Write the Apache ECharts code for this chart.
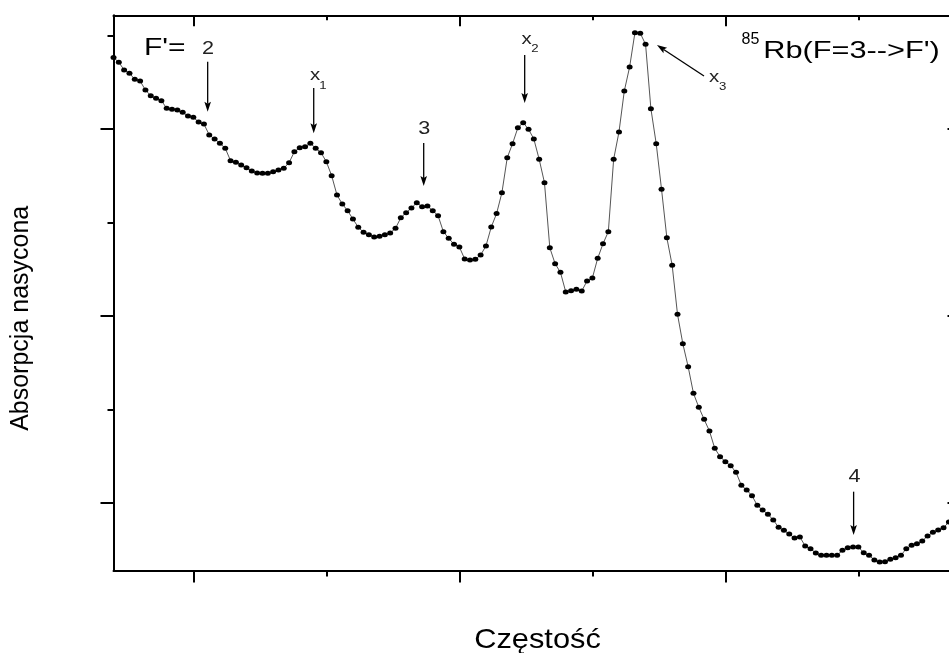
<!DOCTYPE html>
<html><head><meta charset="utf-8">
<script src="https://cdn.jsdelivr.net/npm/echarts@6/dist/echarts.min.js"></script>
<style>html,body{margin:0;padding:0;background:#fff}#c{width:949px;height:653px}</style>
</head><body><div id="c"></div>
<script>
// Frequency (sample position along the scan, arbitrary units)
const frequency = [0,1,2,3,4,5,6,7,8,9,10,11,12,13,14,15,16,17,18,19,20,21,22,23,24,25,26,27,28,29,30,31,32,33,34,35,36,37,38,39,40,41,42,43,44,45,46,47,48,49,50,51,52,53,54,55,56,57,58,59,60,61,62,63,64,65,66,67,68,69,70,71,72,73,74,75,76,77,78,79,80,81,82,83,84,85,86,87,88,89,90,91,92,93,94,95,96,97,98,99,100,101,102,103,104,105,106,107,108,109,110,111,112,113,114,115,116,117,118,119,120,121,122,123,124,125,126,127,128,129,130,131,132,133,134,135,136,137,138,139,140,141,142,143,144,145,146,147,148,149,150,151,152,153,154,155,156,157];
// Saturated absorption (arbitrary units)
const absorption = [5.765,5.713,5.631,5.596,5.531,5.513,5.417,5.356,5.328,5.303,
5.221,5.211,5.203,5.179,5.139,5.125,5.075,5.053,4.936,4.893,
4.847,4.794,4.661,4.644,4.615,4.586,4.551,4.529,4.526,4.526,
4.543,4.561,4.580,4.640,4.757,4.800,4.811,4.847,4.794,4.747,
4.650,4.501,4.294,4.198,4.126,4.037,3.949,3.895,3.870,3.845,
3.852,3.870,3.888,3.938,4.051,4.105,4.155,4.212,4.169,4.176,
4.126,4.073,3.902,3.831,3.767,3.738,3.610,3.599,3.606,3.652,
3.749,3.952,4.096,4.319,4.693,4.843,5.014,5.067,4.997,4.893,
4.676,4.426,3.730,3.559,3.467,3.257,3.271,3.286,3.267,3.374,
3.406,3.617,3.773,3.902,4.676,4.968,5.406,5.663,6.030,6.024,
5.906,5.217,4.843,4.355,3.837,3.542,3.018,2.704,2.458,2.173,
2.024,1.895,1.770,1.585,1.495,1.442,1.399,1.328,1.189,1.139,
1.078,0.975,0.925,0.879,0.818,0.740,0.708,0.668,0.626,0.636,
0.540,0.511,0.465,0.441,0.441,0.441,0.441,0.494,0.522,0.529,
0.529,0.468,0.441,0.390,0.369,0.372,0.398,0.415,0.441,0.511,
0.548,0.565,0.594,0.647,0.687,0.711,0.736,0.797];

const xRange = [0, 159];
const yRange = [0.278, 6.216];
const xMajorTicks = [15, 65, 115];
const xMinorTicks = [40, 90, 140];
const yMajorTicks = [1, 3, 5];
const yMinorTicks = [2, 4, 6];

// Annotation arrows: tail and tip in data coordinates
const arrowNames = ['2', 'x1', '3', 'x2', 'x3', '4'];
const arrowTails = [[17.70, 5.720], [37.63, 5.439], [58.30, 4.850], [77.28, 5.791], [110.98, 5.567], [139.10, 1.121]];
const arrowTips  = [[17.70, 5.185], [37.63, 4.954], [58.30, 4.390], [77.28, 5.278], [102.14, 5.898], [139.10, 0.658]];
// Annotation labels
const labelTexts = ['2', 'x', '1', '3', 'x', '2', 'x', '3', '4'];
const labelPos = [[17.76, 5.850], [37.87, 5.572], [39.34, 5.465], [58.41, 4.998], [77.66, 5.963], [79.22, 5.858], [112.86, 5.556], [114.49, 5.449], [139.27, 1.273]];
const labelSizes = [18, 17, 11, 18, 17, 11, 17, 11, 18];

const FONT = "'Liberation Sans', Arial, Helvetica, sans-serif";

function xAx(pos, ticks, len, inside, showLine) {
  return {
    type: 'value', position: pos, min: xRange[0], max: xRange[1],
    axisLine: { show: showLine, onZero: false, lineStyle: { color: '#000', width: 2 } },
    axisTick: { show: true, inside: inside, length: len, customValues: ticks, lineStyle: { color: '#000', width: 2 } },
    axisLabel: { show: false }, splitLine: { show: false }
  };
}
function yAx(pos, ticks, len, inside, showLine) {
  return {
    type: 'value', position: pos, min: yRange[0], max: yRange[1],
    axisLine: { show: showLine, onZero: false, lineStyle: { color: '#000', width: 2 } },
    axisTick: { show: true, inside: inside, length: len, customValues: ticks, lineStyle: { color: '#000', width: 2 } },
    axisLabel: { show: false }, splitLine: { show: false }
  };
}

const chart = echarts.init(document.getElementById('c'), null, { renderer: 'canvas' });
chart.setOption({
  animation: false,
  backgroundColor: '#fff',
  grid: { left: 113.5, top: 15.3, right: -10.5, bottom: 82.5, containLabel: false, outerBoundsMode: 'none' },
  xAxis: [
    xAx('bottom', xMajorTicks, 12, false, true),
    xAx('bottom', xMinorTicks, 6, false, false),
    xAx('top', xMajorTicks, 11, true, true),
    xAx('top', xMinorTicks, 5, true, false)
  ],
  yAxis: [
    yAx('left', yMajorTicks, 13, false, true),
    yAx('left', yMinorTicks, 6, false, false),
    yAx('right', yMajorTicks, 12, true, true),
    yAx('right', yMinorTicks, 5, true, false)
  ],
  series: [{
    type: 'line',
    xAxisIndex: 0, yAxisIndex: 0,
    data: frequency.map((f, i) => [f, absorption[i]]),
    symbol: 'circle', symbolSize: [6, 5], showSymbol: true, showAllSymbol: true,
    itemStyle: { color: '#000' },
    lineStyle: { color: '#555', width: 1 },
    clip: true, silent: true
  }]
});

function buildGraphics() {
  const g = [];
  const toPx = p => chart.convertToPixel({ xAxisIndex: 0, yAxisIndex: 0 }, p);
  arrowTails.forEach((t, i) => {
    const a = toPx(t), b = toPx(arrowTips[i]);
    const dx = b[0] - a[0], dy = b[1] - a[1];
    const L = Math.hypot(dx, dy), ux = dx / L, uy = dy / L;
    const head = 10, half = 3.3;
    const bx = b[0] - ux * head, by = b[1] - uy * head;
    g.push({ type: 'line', silent: true, shape: { x1: a[0], y1: a[1], x2: bx + ux * 2, y2: by + uy * 2 }, style: { stroke: '#000', lineWidth: 1.3 } });
    g.push({ type: 'polygon', silent: true, shape: { points: [
      [b[0], b[1]],
      [bx - uy * half, by + ux * half],
      [bx + ux * 2, by + uy * 2],
      [bx + uy * half, by - ux * half]
    ] }, style: { fill: '#000' } });
  });
  labelTexts.forEach((t, i) => {
    const p = toPx(labelPos[i]);
    g.push({ type: 'text', silent: true, x: p[0], y: p[1], scaleX: 1.2,
      style: { text: t, fontSize: labelSizes[i], fontFamily: FONT, fill: '#222',
        textAlign: 'center', align: 'center', textVerticalAlign: 'middle', verticalAlign: 'middle' } });
  });
  g.push({ type: 'text', silent: true, x: 144, y: 48, scaleX: 1.25,
    style: { text: "F'=", fontSize: 24, fontFamily: FONT, fill: '#000', textAlign: 'left', align: 'left', textVerticalAlign: 'middle', verticalAlign: 'middle' } });
  g.push({ type: 'text', silent: true, x: 741.5, y: 39.5, scaleX: 1.0,
    style: { text: '85', fontSize: 16, fontFamily: FONT, fill: '#000', textAlign: 'left', align: 'left', textVerticalAlign: 'middle', verticalAlign: 'middle' } });
  g.push({ type: 'text', silent: true, x: 763.3, y: 51, scaleX: 1.28,
    style: { text: "Rb(F=3-->F')", fontSize: 24, fontFamily: FONT, fill: '#000', textAlign: 'left', align: 'left', textVerticalAlign: 'middle', verticalAlign: 'middle' } });
  g.push({ type: 'text', silent: true, x: 537.5, y: 640, scaleX: 1.1,
    style: { text: 'Częstość', fontSize: 28, fontFamily: FONT, fill: '#000', textAlign: 'center', align: 'center', textVerticalAlign: 'middle', verticalAlign: 'middle' } });
  g.push({ type: 'text', silent: true, x: 21.5, y: 318.3, rotation: Math.PI / 2,
    style: { text: 'Absorpcja nasycona', fontSize: 25, fontFamily: FONT, fill: '#000', textAlign: 'center', align: 'center', textVerticalAlign: 'middle', verticalAlign: 'middle' } });
  chart.setOption({ graphic: { elements: g } });
}
buildGraphics();
</script>
</body></html>
